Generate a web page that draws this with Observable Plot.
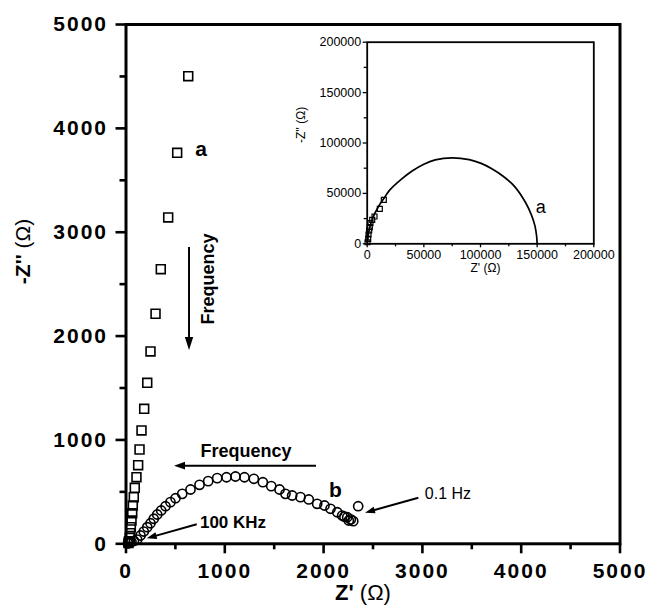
<!DOCTYPE html>
<html><head><meta charset="utf-8">
<script src="https://cdn.jsdelivr.net/npm/d3@7"></script>
<script src="https://cdn.jsdelivr.net/npm/@observablehq/plot@0.6"></script>
<style>
body{margin:0;background:#fff;}
#wrap{position:relative;width:650px;height:611px;}
#inset{position:absolute;left:290px;top:30px;}
</style></head><body><div id="wrap"><div id="main"></div><div id="inset"></div></div>
<script>
// ---- data ----
// series a (squares), main panel
const sqX = [25, 30, 38, 43, 49, 56, 63, 69, 79, 89, 106, 123, 137, 157, 184, 215, 248, 299, 352, 427, 518, 630];
const sqY = [8, 25, 58, 102, 160, 224, 295, 369, 449, 539, 641, 757, 908, 1091, 1300, 1550, 1852, 2215, 2644, 3142, 3765, 4502];
// series b (circles), main panel
const circX = [20, 35, 55, 80, 113, 147, 180, 215, 248, 281, 316, 356, 400, 450, 501, 569, 653, 744, 832, 923, 1017, 1108, 1199, 1294, 1385, 1470, 1554, 1614, 1682, 1766, 1850, 1935, 2009, 2070, 2138, 2188, 2210, 2239, 2255, 2275, 2300, 2350];
const circY = [4, 10, 20, 28, 41, 80, 118, 160, 198, 241, 282, 321, 362, 401, 439, 481, 523, 568, 603, 632, 641, 648, 641, 626, 593, 555, 523, 481, 465, 449, 427, 385, 369, 337, 304, 272, 262, 256, 224, 235, 218, 362];
// inset: squares and fitted curve of series a
const insetSqX = [300, 880, 1150, 1770, 2300, 2910, 4420, 6450, 11130, 14660];
const insetSqY = [1500, 4960, 9230, 13190, 16470, 20440, 23800, 27080, 34720, 43650];
const fitX = [0, 2000, 5000, 10000, 15000, 20000, 30000, 40000, 50000, 60000, 75000, 90000, 100000, 110000, 120000, 130000, 140000, 145000, 148000, 149500, 150000];
const fitY = [0, 15000, 26000, 37000, 45500, 53500, 64000, 72500, 79000, 83200, 85300, 83500, 80000, 74500, 67000, 57000, 40500, 28500, 18000, 8000, 0];
// ticks
const mainTicks = [0, 1000, 2000, 3000, 4000, 5000];
const mainMinor = [500, 1500, 2500, 3500, 4500];
const insetTicks = [0, 50000, 100000, 150000, 200000];
const insetMinor = [25000, 75000, 125000, 175000];
// annotations (data units)
const labelsBig = [{x: 759, y: 3794, t: "a"}, {x: 2120, y: 520, t: "b"}];
const freqH = [{x: 1215, y: 893, t: "Frequency"}];
const freqV = [{x: 835, y: 2550, t: "Frequency"}];
const khz = [{x: 1083, y: 207, t: "100 KHz"}];
const hz = [{x: 3259, y: 480, t: "0.1 Hz"}];
const arrows = [
  {x1: 643, y1: 2853, x2: 643, y2: 1861, L: 13, W: 4.2},
  {x1: 1928, y1: 747, x2: 491, y2: 747, L: 11, W: 3.9},
  {x1: 721, y1: 183, x2: 215, y2: 48, L: 10, W: 3.4},
  {x1: 2964, y1: 439, x2: 2424, y2: 295, L: 10, W: 3.4}
];
const insetLabel = [{x: 153100, y: 36300, t: "a"}];

const squares = sqX.map((x, i) => ({x, y: sqY[i]}));
const circles = circX.map((x, i) => ({x, y: circY[i]}));
const insetSq = insetSqX.map((x, i) => ({x, y: insetSqY[i]}));
const fit = fitX.map((x, i) => ({x, y: fitY[i]}));

const font = "'Liberation Sans', Arial, Helvetica, sans-serif";
const fmt = d => String(d);

function arrowMark(index, scales) {
  const g = d3.create("svg:g");
  for (const a of arrows) {
    const x1 = scales.x(a.x1), y1 = scales.y(a.y1), x2 = scales.x(a.x2), y2 = scales.y(a.y2);
    const ang = Math.atan2(y2 - y1, x2 - x1);
    const bx = x2 - a.L * Math.cos(ang), by = y2 - a.L * Math.sin(ang);
    const px = -Math.sin(ang) * a.W, py = Math.cos(ang) * a.W;
    g.append("line").attr("x1", x1).attr("y1", y1).attr("x2", bx + Math.cos(ang)).attr("y2", by + Math.sin(ang))
      .attr("stroke", "black").attr("stroke-width", 2);
    g.append("path").attr("d", `M${x2},${y2}L${bx + px},${by + py}L${bx - px},${by - py}Z`).attr("fill", "black");
  }
  return g.node();
}

const main = Plot.plot({
  width: 650, height: 611,
  marginLeft: 125.5, marginRight: 30.5, marginTop: 24, marginBottom: 67.7,
  style: {fontFamily: font, background: "transparent", overflow: "visible", color: "black"},
  x: {domain: [0, 5000]},
  y: {domain: [0, 5000]},
  marks: [
    Plot.axisX(mainTicks, {tickSize: 10, tickPadding: 9, fontSize: 21, fontWeight: "bold", strokeWidth: 2.6, tickFormat: fmt, label: null}),
    Plot.axisX(mainMinor, {tickSize: 6, strokeWidth: 2.6, tickFormat: () => "", label: null}),
    Plot.axisY(mainTicks, {tickSize: 10, tickPadding: 8, fontSize: 21, fontWeight: "bold", strokeWidth: 2.6, tickFormat: fmt, label: null}),
    Plot.axisY(mainMinor, {tickSize: 6, strokeWidth: 2.6, tickFormat: () => "", label: null}),
    Plot.dot(squares, {x: "x", y: "y", symbol: "square", r: 5, stroke: "black", strokeWidth: 1.6, fill: "none"}),
    Plot.dot(circles, {x: "x", y: "y", r: 4.6, stroke: "black", strokeWidth: 1.6, fill: "none"}),
    Plot.frame({strokeWidth: 3}),
    arrowMark,
    Plot.text(labelsBig, {x: "x", y: "y", text: "t", fontSize: 21, fontWeight: "bold"}),
    Plot.text(freqH, {x: "x", y: "y", text: "t", fontSize: 18, fontWeight: "bold"}),
    Plot.text(freqV, {x: "x", y: "y", text: "t", fontSize: 18, fontWeight: "bold", rotate: -90}),
    Plot.text(khz, {x: "x", y: "y", text: "t", fontSize: 17, fontWeight: "bold"}),
    Plot.text(hz, {x: "x", y: "y", text: "t", fontSize: 16}),
    Plot.text(["Z' (Ω)"], {frameAnchor: "bottom", dy: 55.7, dx: -10, fontSize: 22, fontWeight: "bold"}),
    Plot.text(["-Z'' (Ω)"], {frameAnchor: "left", dx: -103, rotate: -90, fontSize: 21, fontWeight: "bold"})
  ]
});
document.getElementById("main").append(main);

const inset = Plot.plot({
  width: 320, height: 250,
  marginLeft: 76.7, marginRight: 16.7, marginTop: 11.7, marginBottom: 36.7,
  style: {fontFamily: font, background: "transparent", overflow: "visible", color: "black"},
  x: {domain: [0, 200000]},
  y: {domain: [0, 200000]},
  marks: [
    Plot.axisX(insetTicks, {tickSize: 4, tickPadding: 2, fontSize: 12.5, strokeWidth: 1.3, tickFormat: fmt, label: null}),
    Plot.axisX(insetMinor, {tickSize: 3, strokeWidth: 1.3, tickFormat: () => "", label: null}),
    Plot.axisY(insetTicks, {tickSize: 4, tickPadding: 2, fontSize: 12.5, strokeWidth: 1.3, tickFormat: fmt, label: null}),
    Plot.axisY(insetMinor, {tickSize: 3, strokeWidth: 1.3, tickFormat: () => "", label: null}),
    Plot.line(fit, {x: "x", y: "y", curve: "catmull-rom", stroke: "black", strokeWidth: 1.7}),
    Plot.dot(insetSq, {x: "x", y: "y", symbol: "square", r: 2.8, stroke: "black", strokeWidth: 1.2, fill: "none"}),
    Plot.frame({strokeWidth: 1.8}),
    Plot.text(insetLabel, {x: "x", y: "y", text: "t", fontSize: 18}),
    Plot.text(["Z' (Ω)"], {frameAnchor: "bottom", dy: 28, dx: 5, fontSize: 12}),
    Plot.text(["-Z'' (Ω)"], {frameAnchor: "left", dx: -65.7, rotate: -90, fontSize: 12})
  ]
});
document.getElementById("inset").append(inset);

// tick-label spacing and lighter Ω
d3.select(main).selectAll('g[aria-label$="tick label"]').style("letter-spacing", "2px").attr("font-weight", "bold");
for (const svg of [main, inset]) {
  d3.select(svg).selectAll("text").each(function () {
    const t = this.textContent;
    const i = t.indexOf("(Ω)");
    if (i >= 0 && this.children.length === 0) {
      this.textContent = t.slice(0, i);
      d3.select(this).append("tspan").attr("font-weight", "normal").text("(Ω)");
    }
  });
}
</script></body></html>
